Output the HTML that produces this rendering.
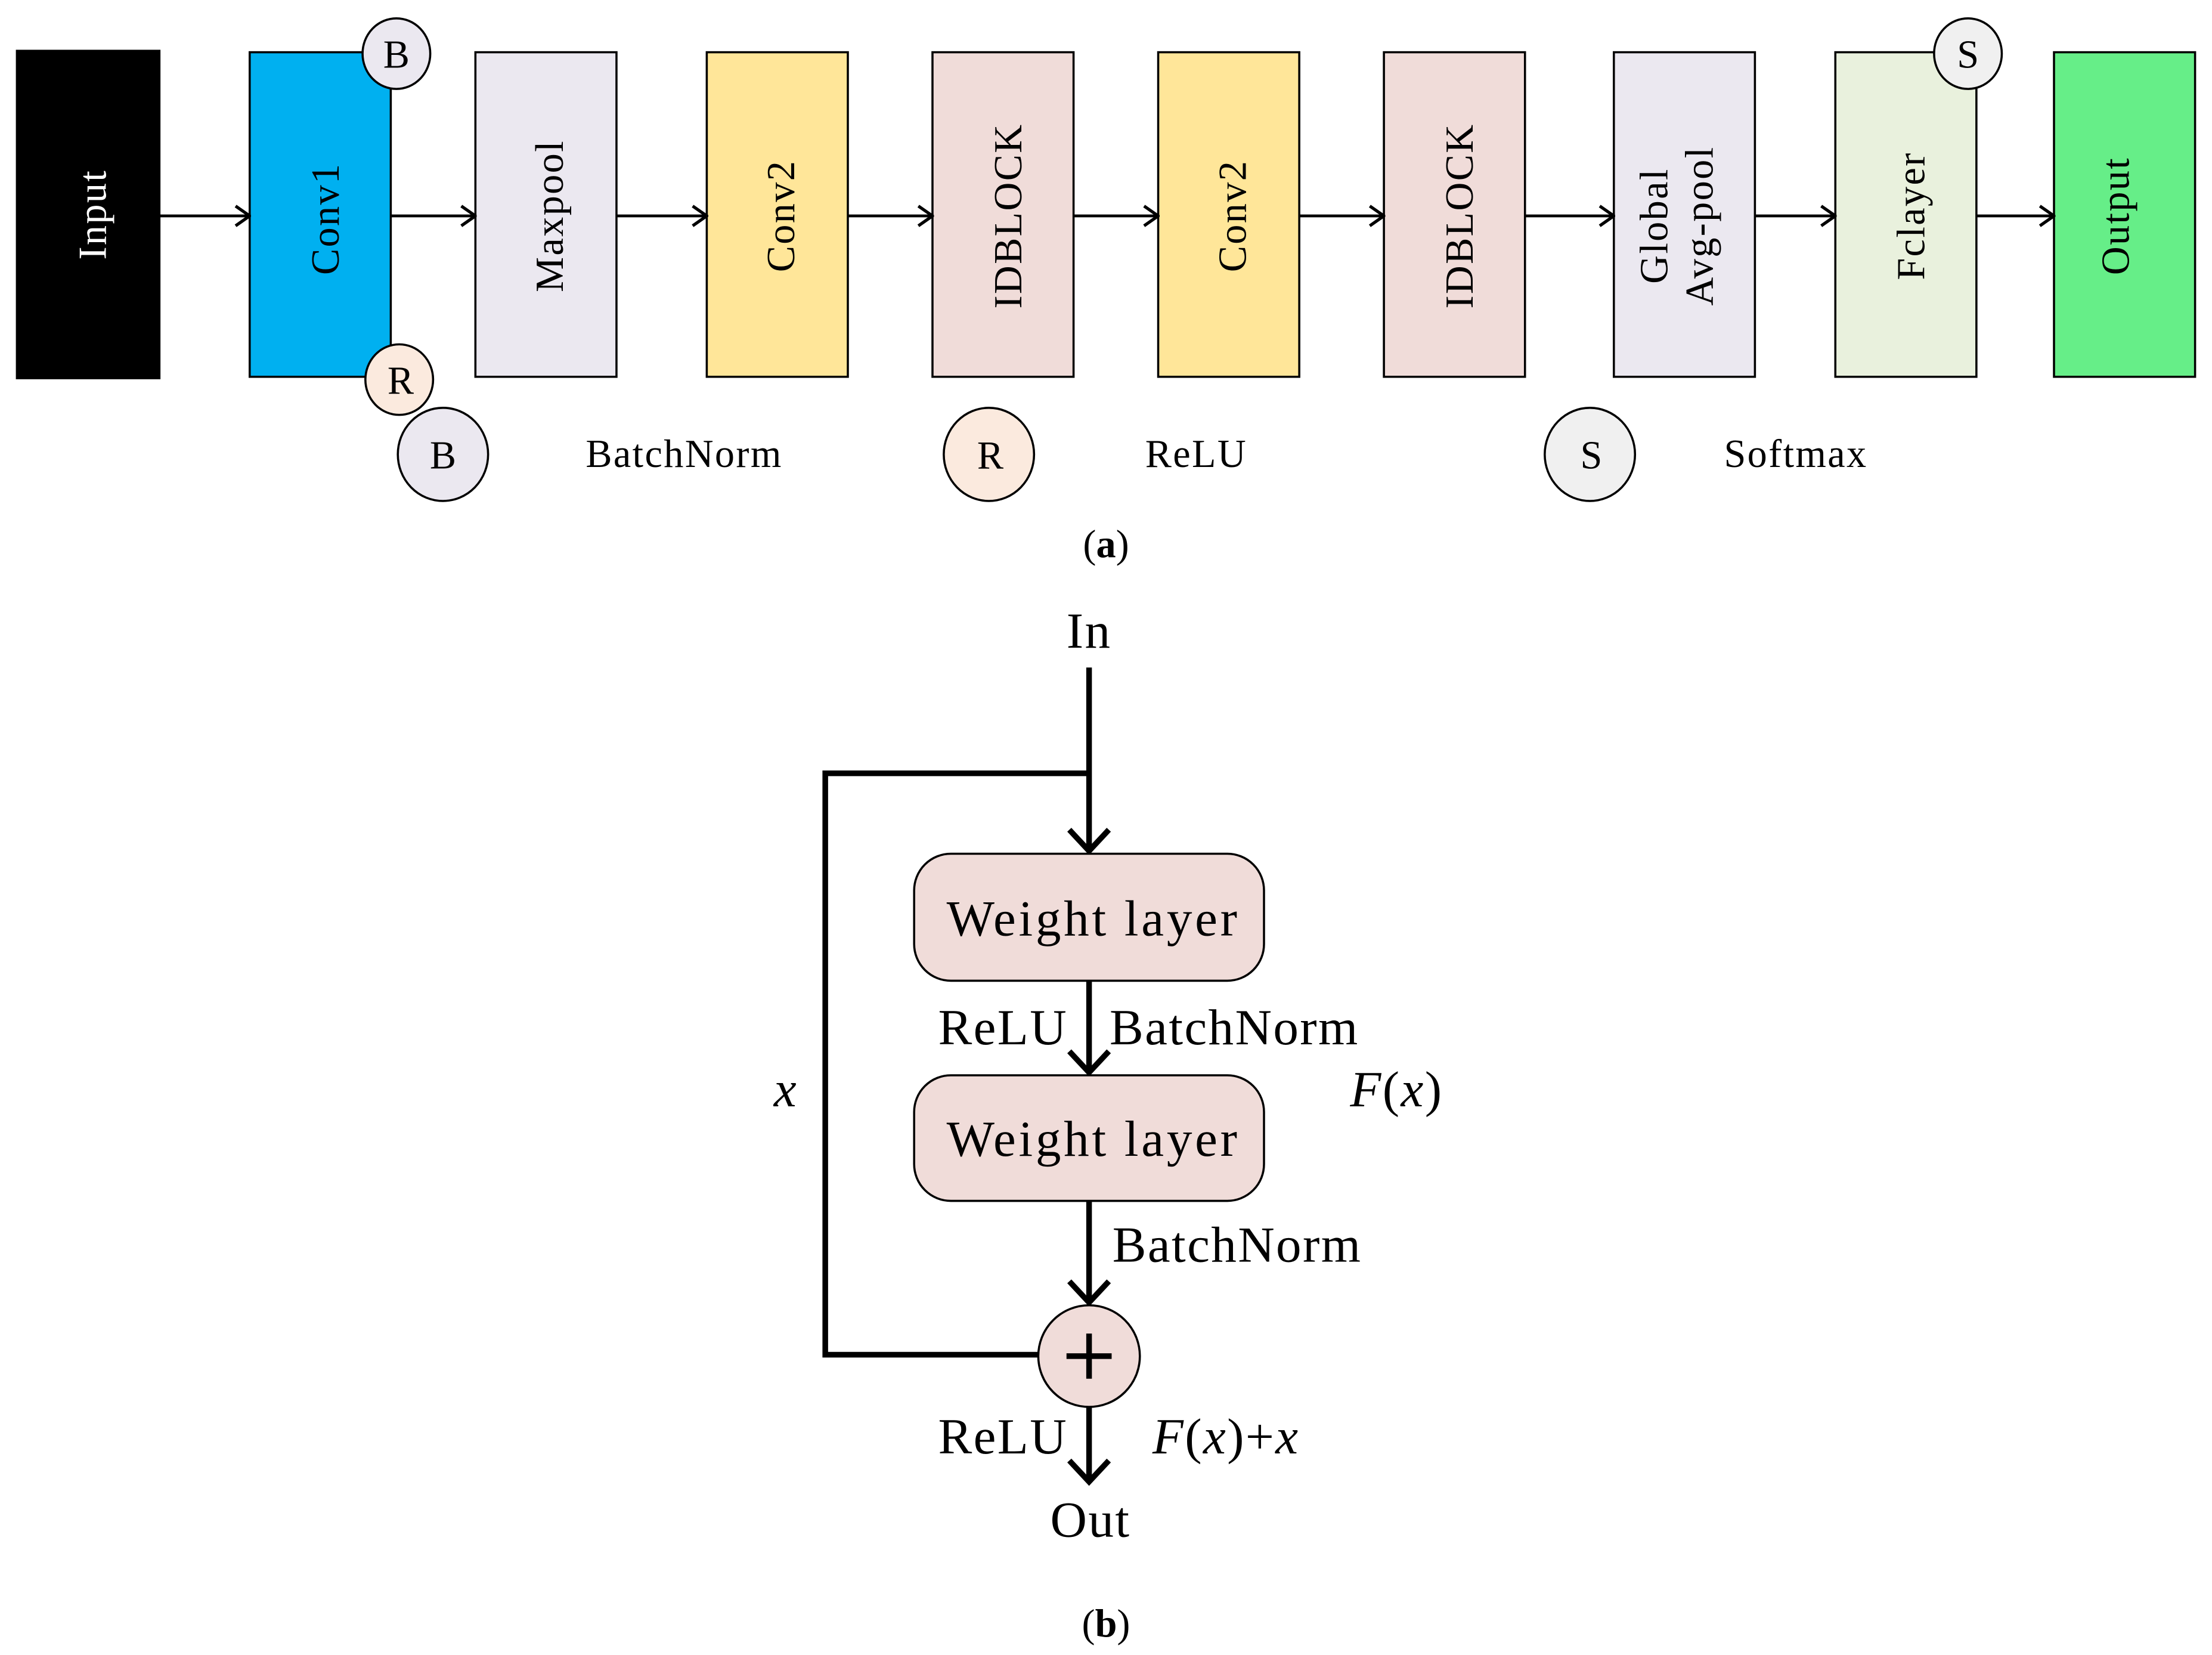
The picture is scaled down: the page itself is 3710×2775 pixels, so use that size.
<!DOCTYPE html>
<html><head><style>html,body{margin:0;padding:0;background:#fff}svg{display:block}</style></head>
<body>
<svg width="3710" height="2775" viewBox="0 0 1568 1172.8" xmlns="http://www.w3.org/2000/svg" font-family="'Liberation Serif', serif">
<defs>
<marker id="a" markerWidth="12" markerHeight="16" refX="11" refY="8" orient="auto" markerUnits="userSpaceOnUse"><path d="M1,1 L11,8 L1,15" fill="none" stroke="#000" stroke-width="2.2"/></marker>
</defs>
<g stroke="#000" stroke-width="1.5">
<rect x="12" y="36" width="101" height="232" fill="#000"/>
<rect x="177" y="37" width="100" height="230" fill="#00b0f0"/>
<rect x="337" y="37" width="100" height="230" fill="#ebe8f0"/>
<rect x="501" y="37" width="100" height="230" fill="#ffe699"/>
<rect x="661" y="37" width="100" height="230" fill="#f0dcd9"/>
<rect x="821" y="37" width="100" height="230" fill="#ffe699"/>
<rect x="981" y="37" width="100" height="230" fill="#f0dcd9"/>
<rect x="1144" y="37" width="100" height="230" fill="#ebe8f0"/>
<rect x="1301" y="37" width="100" height="230" fill="#e9f1dd"/>
<rect x="1456" y="37" width="100" height="230" fill="#66ee88"/>
</g>
<g stroke="#000" stroke-width="2" marker-end="url(#a)">
<line x1="113" y1="153" x2="177" y2="153"/>
<line x1="277" y1="153" x2="337" y2="153"/>
<line x1="437" y1="153" x2="501" y2="153"/>
<line x1="601" y1="153" x2="661" y2="153"/>
<line x1="761" y1="153" x2="821" y2="153"/>
<line x1="921" y1="153" x2="981" y2="153"/>
<line x1="1081" y1="153" x2="1144" y2="153"/>
<line x1="1244" y1="153" x2="1301" y2="153"/>
<line x1="1401" y1="153" x2="1456" y2="153"/>
</g>
<g font-size="28" text-anchor="middle" letter-spacing="1">
<text transform="translate(65,152) rotate(-90)" fill="#fff" dy="10">Input</text>
<text transform="translate(230,155) rotate(-90)" dy="10">Conv1</text>
<text transform="translate(389,153) rotate(-90)" dy="10">Maxpool</text>
<text transform="translate(553,153) rotate(-90)" dy="10">Conv2</text>
<text transform="translate(714,153) rotate(-90)" dy="10">IDBLOCK</text>
<text transform="translate(873,153) rotate(-90)" dy="10">Conv2</text>
<text transform="translate(1034,153) rotate(-90)" dy="10">IDBLOCK</text>
<text transform="translate(1188,160) rotate(-90)" dy="-6">Global</text>
<text transform="translate(1188,160) rotate(-90)" dy="26">Avg-pool</text>
<text transform="translate(1354,153) rotate(-90)" dy="10">Fclayer</text>
<text transform="translate(1499,153) rotate(-90)" dy="10">Output</text>
</g>
<g stroke="#000" stroke-width="1.5">
<ellipse cx="281" cy="38" rx="24" ry="25" fill="#ebe8f0"/>
<ellipse cx="283" cy="269" rx="24" ry="25" fill="#fbeade"/>
<ellipse cx="1395" cy="38" rx="24" ry="25" fill="#f0f0f0"/>
<ellipse cx="314" cy="322" rx="32" ry="33" fill="#ebe8f0"/>
<ellipse cx="701" cy="322" rx="32" ry="33" fill="#fbeade"/>
<ellipse cx="1127" cy="322" rx="32" ry="33" fill="#f0f0f0"/>
</g>
<g font-size="28" text-anchor="middle">
<text x="281" y="48">B</text>
<text x="284" y="279">R</text>
<text x="1395" y="48">S</text>
<text x="314" y="332">B</text>
<text x="702" y="332">R</text>
<text x="1128" y="332">S</text>
<text x="485" y="331" letter-spacing="1">BatchNorm</text>
<text x="848" y="331" letter-spacing="1">ReLU</text>
<text x="1273" y="331" letter-spacing="1">Softmax</text>
<text x="784" y="395">(<tspan font-weight="bold">a</tspan>)</text>
<text x="784" y="1160">(<tspan font-weight="bold">b</tspan>)</text>
</g>
<g stroke="#000" stroke-width="4" fill="none">
<polyline points="772,548 585,548 585,960 737,960"/>
<line x1="772" y1="473" x2="772" y2="603"/>
<path d="M758,588 L772,603 L786,588"/>
<line x1="772" y1="695" x2="772" y2="760"/>
<path d="M758,745 L772,760 L786,745"/>
<line x1="772" y1="851" x2="772" y2="923"/>
<path d="M758,908 L772,923 L786,908"/>
<line x1="772" y1="997" x2="772" y2="1050"/>
<path d="M758,1035 L772,1050 L786,1035"/>
</g>
<g stroke="#000" stroke-width="1.5" fill="#f0dcd9">
<rect x="648" y="605" width="248" height="90" rx="26"/>
<rect x="648" y="762" width="248" height="89" rx="26"/>
<circle cx="772" cy="961" r="36"/>
</g>
<g stroke="#000" stroke-width="4"><line x1="756" y1="961" x2="788" y2="961"/><line x1="772" y1="945" x2="772" y2="977"/></g>
<g font-size="36" text-anchor="middle" letter-spacing="1">
<text x="772" y="459">In</text>
<text x="775" y="663" letter-spacing="2">Weight layer</text>
<text x="775" y="819" letter-spacing="2">Weight layer</text>
<text x="711" y="740">ReLU</text>
<text x="875" y="740">BatchNorm</text>
<text x="877" y="894">BatchNorm</text>
<text x="711" y="1030">ReLU</text>
<text x="773" y="1089">Out</text>
<text x="990" y="784"><tspan font-style="italic">F</tspan>(<tspan font-style="italic">x</tspan>)</text>
<text x="557" y="784" font-style="italic">x</text>
<text x="869" y="1030"><tspan font-style="italic">F</tspan>(<tspan font-style="italic">x</tspan>)+<tspan font-style="italic">x</tspan></text>
</g>
</svg>
</body></html>
